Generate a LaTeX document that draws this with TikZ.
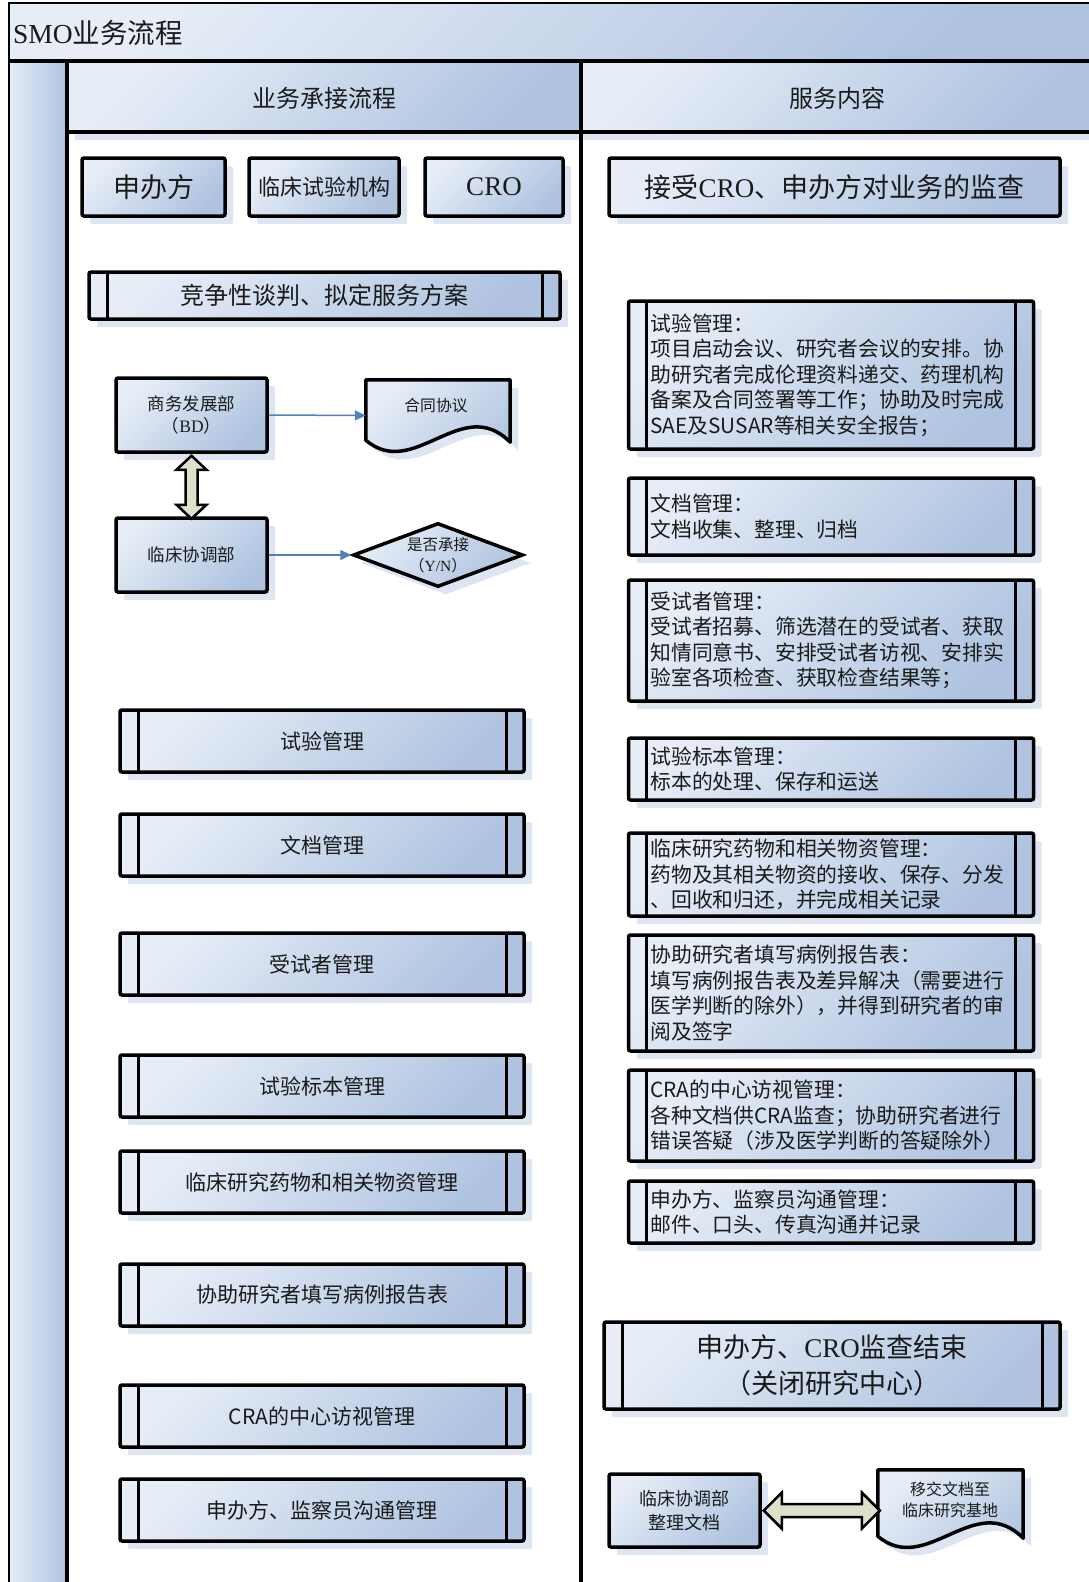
\documentclass[tikz,border=0pt]{standalone}
\usepackage{fontspec}
\setmainfont{Noto Sans CJK SC}
\newfontfamily\tnr{Liberation Serif}
\usetikzlibrary{shadows,shapes.geometric,arrows.meta,calc}
\definecolor{bl1}{HTML}{E6EDF7}
\definecolor{bl2}{HTML}{AFC3E0}
\definecolor{shc}{HTML}{DCE5F1}
\definecolor{arrowblue}{HTML}{4F81BD}
\definecolor{blockfill}{HTML}{DDE1CB}
\definecolor{txt}{HTML}{1A1A1A}
\newcommand{\fs}[2]{\fontsize{#1}{#2}\selectfont}
\newcommand{\docshape}[1]{(#1.north west) -- (#1.north east) -- ($(#1.south east)+(0,-9)$) .. controls ($(#1.south east)!0.333!(#1.south west)+(0,-58)$) and ($(#1.south east)!0.667!(#1.south west)+(0,30)$) .. ($(#1.south west)+(0,-11)$) -- cycle}
\begin{document}
\begin{tikzpicture}[x=1pt,y=-1pt,
  grad/.style={top color=bl1, bottom color=bl2, shading angle=45},
  shd/.style={drop shadow={shadow xshift=8pt, shadow yshift=-8pt, fill=shc, opacity=1}},
  box/.style={rectangle, draw=black, line width=3.5pt, rounded corners=2pt, grad, shd, inner sep=0pt, align=center, text=txt},
  proc/.style={box, path picture={
     \draw[line width=3pt] ([xshift=18pt]path picture bounding box.north west) -- ([xshift=18pt]path picture bounding box.south west);
     \draw[line width=3pt] ([xshift=-18pt]path picture bounding box.north east) -- ([xshift=-18pt]path picture bounding box.south east);}},
  lproc/.style={proc, minimum width=404, minimum height=62, font=\fs{21}{25.5}},
  rproc/.style={proc, minimum width=405, text width=361pt, align=left, font=\fs{20.8}{25.5}},
  docframe/.style={rectangle, inner sep=0pt},
  doc/.style={draw=black, line width=3.5pt, grad, shd, line join=round},
  conn/.style={draw=arrowblue, line width=1.5pt, -{Triangle[length=11pt,width=10pt]}},
  blockarr/.style={draw=black, line width=2.5pt, fill=blockfill, line join=miter},
  lbl/.style={inner sep=0pt, text=txt, align=center}
]
\useasboundingbox (0,0) rectangle (1089,1582);
\fill[white] (0,0) rectangle (1089,1582);

% title band and left strip
\shade[grad] (9,3) rectangle (1089,61);
\shade[left color=bl1, right color=bl2] (9,61) rectangle (67,1582);
% lane headers
\path[grad, shd] (67,61) rectangle (581,132);
\path[grad, shd] (581,61) rectangle (1089,132);
\draw[line width=1.5pt] (1089,3) -- (9,3) -- (9,1582);
\draw[line width=3.5pt] (9,61) -- (1089,61) (67,61) -- (67,1582) (581,61) -- (581,1582) (67,132) -- (1089,132);

\node[lbl, anchor=west, font=\fs{27.5}{32}] (title) at (13,33) {{\tnr SMO}业务流程};
\node[lbl, font=\fs{24}{28}] (lane1) at (324,98) {业务承接流程};
\node[lbl, font=\fs{24}{28}] (lane2) at (837,98) {服务内容};

% top row
\node[box, minimum width=143, minimum height=58, font=\fs{27}{32}] (sponsor) at (153.5,187) {申办方};
\node[box, minimum width=150, minimum height=58, font=\fs{22}{26}] (site) at (324,187) {临床试验机构};
\node[box, minimum width=138, minimum height=58, font=\fs{27}{32}\tnr] (cro) at (494,187) {CRO};
\node[box, minimum width=451, minimum height=58, font=\fs{27}{32}] (audit) at (834.5,187) {接受{\tnr CRO}、申办方对业务的监查};

\node[proc, minimum width=471, minimum height=47, font=\fs{24}{28}] (nego) at (324.5,295.5) {竞争性谈判、拟定服务方案};

% BD and coordination
\node[box, minimum width=151, minimum height=74, font=\fs{17.5}{22.5}] (bd) at (191.5,415) {商务发展部\\（{\tnr BD}）};
\node[docframe, minimum width=144, minimum height=71] (contract) at (438,415.5) {};
\path[doc] \docshape{contract};
\node[lbl, font=\fs{15.8}{20}] (contracttxt) at (436,406) {合同协议};
\draw[conn] (bd.east) -- (contract.west);

\node[box, minimum width=151, minimum height=74, font=\fs{17.5}{22.5}] (cc) at (191.5,555) {临床协调部};
\node[diamond, draw=black, line width=3.5pt, grad, shd, minimum width=170, minimum height=64, inner sep=0pt, aspect=2.66, font=\fs{15.5}{21}, align=center, text=txt] (accept) at (438,555) {是否承接\\（{\tnr Y/N}）};
\draw[conn] (cc.east) -- (accept.west);

\draw[blockarr] ($(bd.south)+(0,2)$) -- ++(15,14) -- ++(-9,0) -- ++(0,35) -- ++(9,0) -- ++(-15,14) -- ++(-15,-14) -- ++(9,0) -- ++(0,-35) -- ++(-9,0) -- cycle;

% left process boxes
\node[lproc] (l1) at (322,741) {试验管理};
\node[lproc] (l2) at (322,845) {文档管理};
\node[lproc] (l3) at (322,964) {受试者管理};
\node[lproc] (l4) at (322,1086) {试验标本管理};
\node[lproc] (l5) at (322,1182) {临床研究药物和相关物资管理};
\node[lproc] (l6) at (322,1295) {协助研究者填写病例报告表};
\node[lproc] (l7) at (322,1416) {CRA的中心访视管理};
\node[lproc] (l8) at (322,1510) {申办方、监察员沟通管理};

% right process boxes
\node[rproc, minimum height=148] (r1) at (831,375) {试验管理：\\项目启动会议、研究者会议的安排。协\\助研究者完成伦理资料递交、药理机构\\备案及合同签署等工作；协助及时完成\\SAE及SUSAR等相关安全报告；};
\node[rproc, minimum height=77] (r2) at (831,516.5) {文档管理：\\文档收集、整理、归档};
\node[rproc, minimum height=121] (r3) at (831,640.5) {受试者管理：\\受试者招募、筛选潜在的受试者、获取\\知情同意书、安排受试者访视、安排实\\验室各项检查、获取检查结果等；};
\node[rproc, minimum height=62] (r4) at (831,769) {试验标本管理：\\标本的处理、保存和运送};
\node[rproc, minimum height=83] (r5) at (831,874.5) {临床研究药物和相关物资管理：\\药物及其相关物资的接收、保存、分发\\、回收和归还，并完成相关记录};
\node[rproc, minimum height=116] (r6) at (831,993) {协助研究者填写病例报告表：\\填写病例报告表及差异解决（需要进行\\医学判断的除外），并得到研究者的审\\阅及签字};
\node[rproc, minimum height=91] (r7) at (831,1115.5) {CRA的中心访视管理：\\各种文档供CRA监查；协助研究者进行\\错误答疑（涉及医学判断的答疑除外）};
\node[rproc, minimum height=62] (r8) at (831,1212) {申办方、监察员沟通管理：\\邮件、口头、传真沟通并记录};

\node[proc, minimum width=456, minimum height=87, font=\fs{27}{36}] (closeout) at (832,1365.5) {申办方、{\tnr CRO}监查结束\\（关闭研究中心）};

\node[box, minimum width=151, minimum height=73, font=\fs{18}{24}] (cc2) at (684.5,1510.5) {临床协调部\\整理文档};
\node[docframe, minimum width=145, minimum height=77] (handover) at (950.5,1508.5) {};
\path[doc] \docshape{handover};
\node[lbl, font=\fs{16}{21.5}] (handovertxt) at (950,1500) {移交文档至\\临床研究基地};

\draw[blockarr] ($(cc2.east)+(2,0)$) -- ++(18,-18) -- ++(0,11.5) -- ++(80,0) -- ++(0,-11.5) -- ++(18,18) -- ++(-18,18) -- ++(0,-11.5) -- ++(-80,0) -- ++(0,11.5) -- cycle;
\end{tikzpicture}
\end{document}
